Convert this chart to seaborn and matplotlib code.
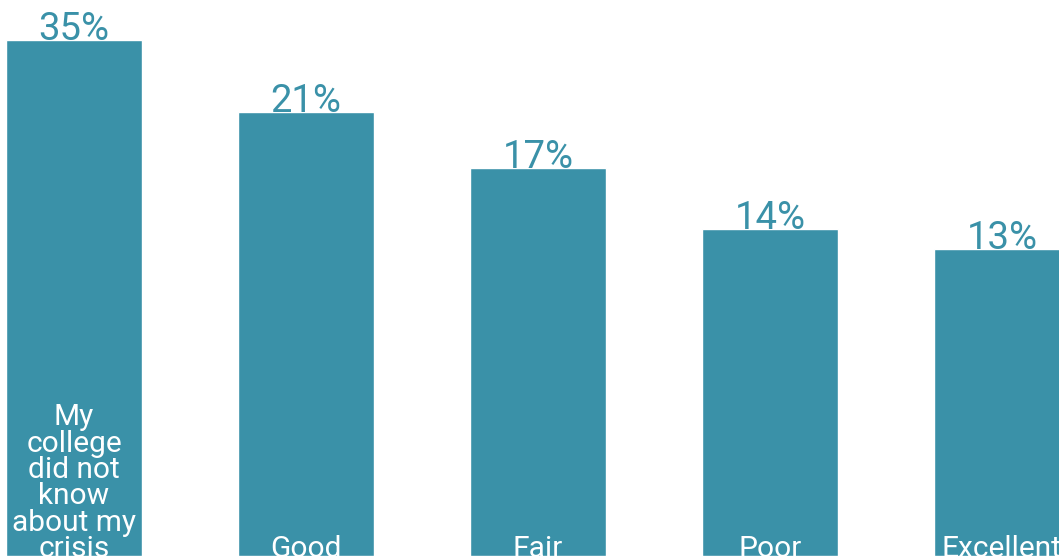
import matplotlib
matplotlib.use("Agg")
import matplotlib.pyplot as plt
import seaborn as sns
import pandas as pd

# Data
categories = ["My\ncollege\ndid not\nknow\nabout my\ncrisis", "Good", "Fair", "Poor", "Excellent"]
pct_values = [35, 21, 17, 14, 13]          # printed percentages
bar_heights = [35.0, 30.1, 26.3, 22.2, 20.8]  # bar lengths

df = pd.DataFrame({"cat": categories, "h": bar_heights, "pct": pct_values})

sns.set_theme(style="white")
plt.rcParams["font.family"] = ["Roboto", "DejaVu Sans"]

color = "#3A91A8"
fig = plt.figure(figsize=(10.59, 5.56), dpi=100)
ax = fig.add_axes([0, 0, 1, 1])
sns.barplot(data=df, x="cat", y="h", color=color, saturation=1, width=0.586, ax=ax)

ax.set_xlim(-0.319, 4.246)
ax.set_ylim(0, 37.71)
ax.axis("off")

for i, (h, p, c) in enumerate(zip(bar_heights, pct_values, categories)):
    ax.text(i, h, f"{p}%", ha="center", va="baseline", fontsize=27.5, color=color)
    ax.annotate(c, xy=(i, 0), xycoords=("data", "axes fraction"), xytext=(0, -1.0),
                textcoords="offset points", ha="center", va="baseline",
                fontsize=21.5, color="white", linespacing=0.93)

fig.savefig("out.png", dpi=100)
